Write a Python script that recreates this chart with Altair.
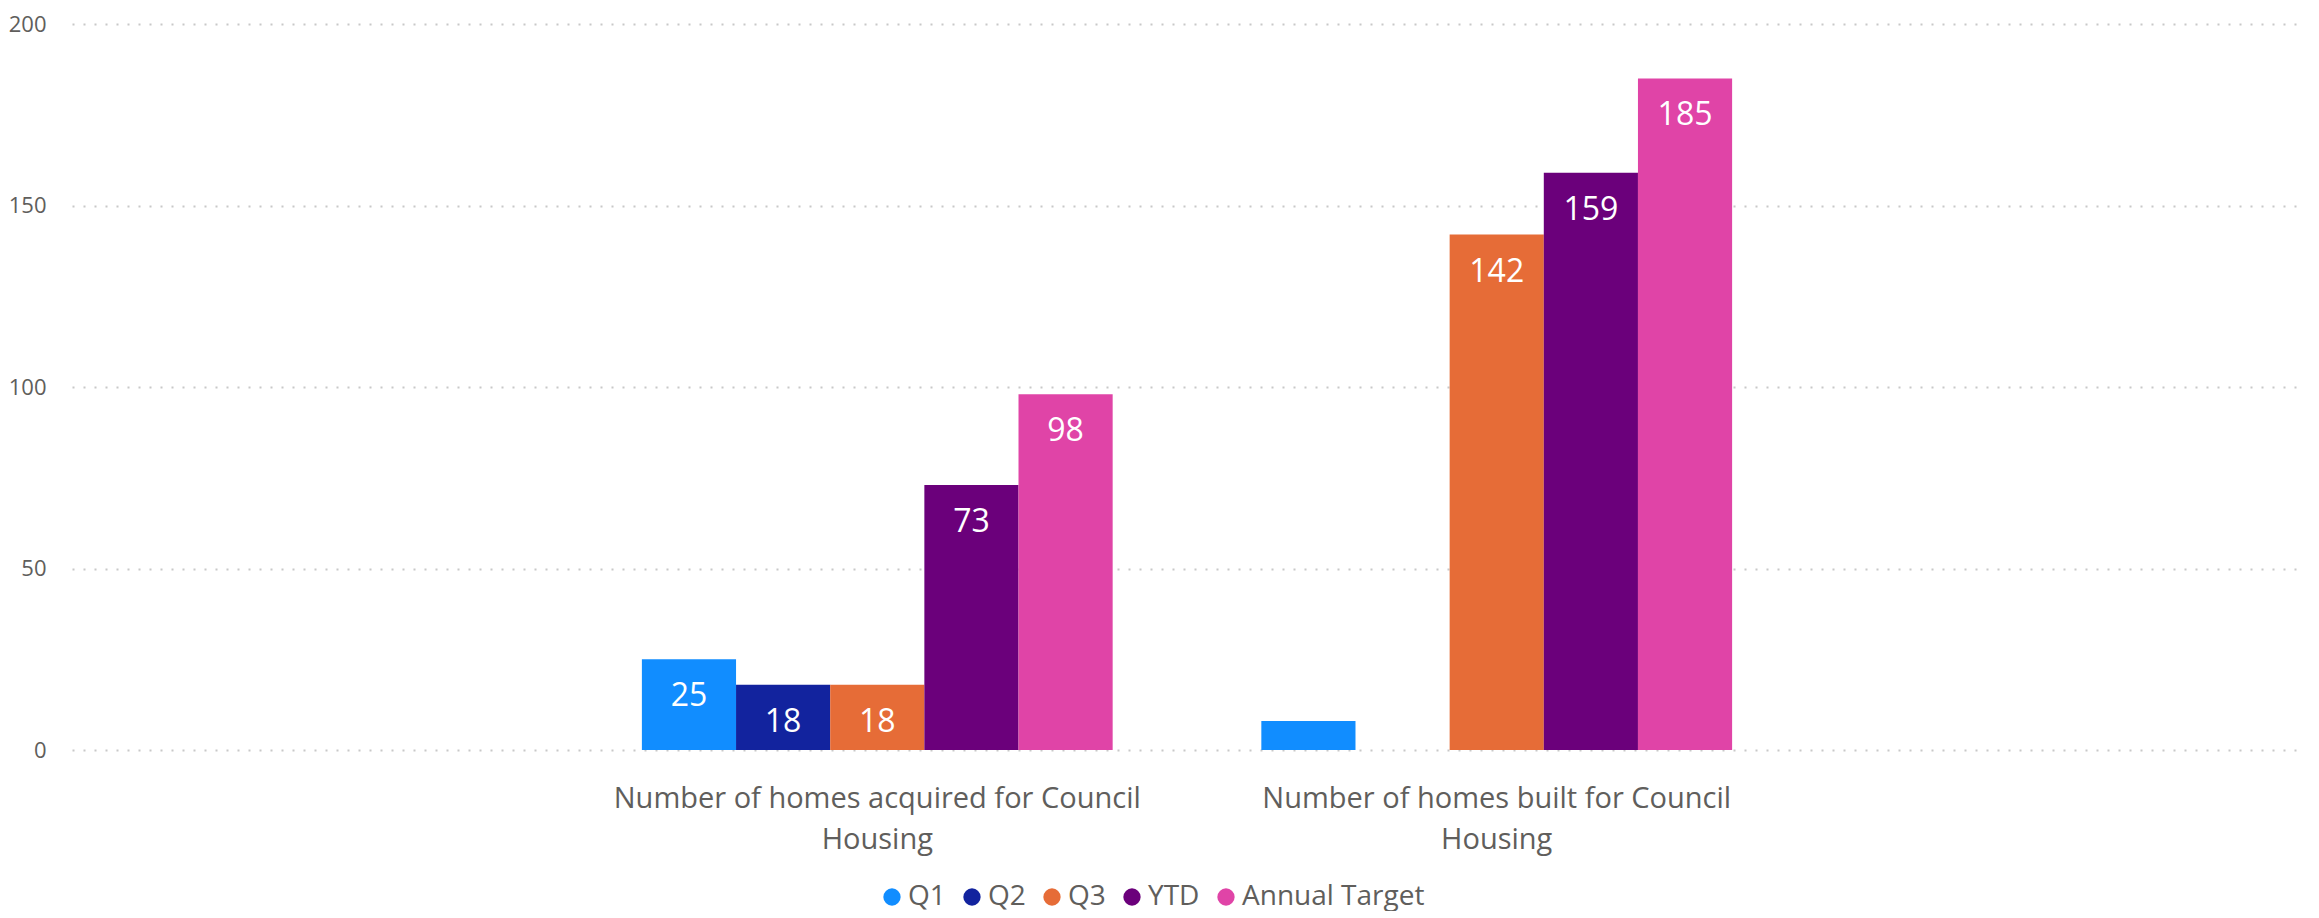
import altair as alt
import pandas as pd

categories = [
    "Number of homes acquired for Council Housing",
    "Number of homes built for Council Housing",
]
series = ["Q1", "Q2", "Q3", "YTD", "Annual Target"]
acquired = [25, 18, 18, 73, 98]
built = [8, None, 142, 159, 185]
colors = ["#118DFF", "#12239E", "#E66C37", "#6B007B", "#E044A7"]
y_ticks = [0, 50, 100, 150, 200]

rows = []
for cat, vals in zip(categories, [acquired, built]):
    for s, v in zip(series, vals):
        if v is not None:
            rows.append({"Category": cat, "Series": s, "Value": v})
df = pd.DataFrame(rows)

FONT = "Open Sans"
GRAY = "#605E5C"

x_enc = alt.X(
    "Category:N",
    sort=categories,
    scale=alt.Scale(paddingInner=0.24, paddingOuter=0.92),
    axis=alt.Axis(
        title=None,
        labelAngle=0,
        labelExpr="[slice(datum.label, 0, lastindexof(datum.label, ' ')), slice(datum.label, lastindexof(datum.label, ' ') + 1)]",
        labelFontSize=29,
        labelColor=GRAY,
        labelLineHeight=41,
        labelPadding=48,
        labelBaseline="middle",
        labelLimit=0,
        ticks=False,
        domain=False,
        grid=False,
    ),
)
xoff_enc = alt.XOffset("Series:N", sort=series, scale=alt.Scale(paddingInner=0, paddingOuter=0))
y_enc = alt.Y(
    "Value:Q",
    scale=alt.Scale(domain=[0, 200], nice=False),
    axis=alt.Axis(
        title=None,
        values=y_ticks,
        labelFontSize=22,
        labelColor=GRAY,
        labelPadding=26,
        ticks=False,
        domain=False,
        grid=True,
        gridColor="#C8C8C8",
        gridDash=[2, 9],
        gridWidth=2,
    ),
)

base = alt.Chart(df).encode(x=x_enc, xOffset=xoff_enc, y=y_enc)

bars = base.mark_bar(width={"band": 1}).encode(
    color=alt.Color(
        "Series:N",
        sort=series,
        scale=alt.Scale(domain=series, range=colors),
        legend=alt.Legend(
            title=None,
            orient="none",
            direction="horizontal",
            legendX=806,
            legendY=859,
            symbolType="circle",
            symbolSize=300,
            symbolStrokeWidth=0,
            labelFontSize=28,
            labelColor=GRAY,
            labelOffset=2,
            columnPadding=12,
            labelLimit=500,
        ),
    )
)

labels = (
    base.transform_filter("datum.Value >= 15")
    .mark_text(baseline="middle", dy=37, color="white", fontSize=32, font=FONT)
    .encode(text=alt.Text("Value:Q"))
)

chart = (
    alt.layer(bars, labels)
    .properties(width=2230, height=726, padding={"top": 5, "left": 0, "right": 0, "bottom": 0})
    .configure(font=FONT)
    .configure_view(stroke=None)
    .configure_axis(labelFont=FONT)
    .configure_legend(labelFont=FONT)
)

chart.save("out.html", embed_options={"renderer": "svg", "actions": False})
